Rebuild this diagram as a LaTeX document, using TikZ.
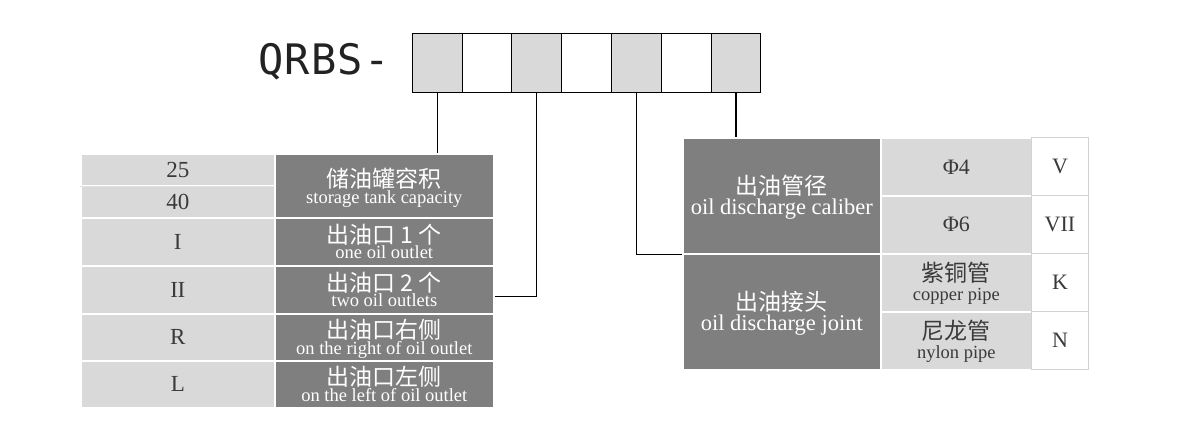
\documentclass[tikz,border=0pt]{standalone}
\usepackage{fontspec}
\setmainfont{Liberation Serif}
\newfontfamily\cjk{Noto Sans CJK SC}
\newfontfamily\codefont{DejaVu Sans Mono}
\definecolor{darkc}{HTML}{7F7F7F}
\definecolor{lightc}{HTML}{D9D9D9}
\definecolor{txtc}{HTML}{3A3A3A}
\definecolor{borderc}{HTML}{D2D2D2}
\definecolor{codec}{HTML}{222222}
\definecolor{sepc}{HTML}{E2E2E2}
\begin{document}
\begin{tikzpicture}[x=1pt,y=-1pt,
  codebox/.style={rectangle, draw=black, line width=0.9pt, minimum width=49.8pt, minimum height=59pt, inner sep=0, anchor=north west},
  cell/.style={rectangle, inner sep=0, anchor=north west, draw=white, line width=1.6pt},
  dark/.style={cell, fill=darkc},
  light/.style={cell, fill=lightc, text=txtc, font=\fontsize{23}{24}\selectfont},
  whitec/.style={rectangle, inner sep=0, anchor=north west, draw=borderc, line width=1pt, fill=white, text=txtc, font=\fontsize{22}{24}\selectfont},
  cn/.style={font=\cjk\fontsize{23}{23}\selectfont, anchor=base, inner sep=0, text=white},
  en/.style={font=\fontsize{18.5}{18.5}\selectfont, anchor=base, inner sep=0, text=white},
  cnr/.style={cn, font=\cjk\fontsize{23}{23}\selectfont},
  enr/.style={en, font=\fontsize{22.5}{22.5}\selectfont},
  ens/.style={en, text=txtc, font=\fontsize{18.5}{18.5}\selectfont},
  conn/.style={draw=black, line width=1.2pt}
]
\useasboundingbox (0,0) rectangle (1184,428);

% code
\node[anchor=west, inner sep=0, text=codec, font=\codefont\fontsize{42}{42}\selectfont] (code) at (258,62) {Q\kern1.3pt R\kern1.3pt B\kern1.3pt S\kern1.3pt -};
\node[codebox, fill=lightc] (b0) at (411.8,33.5) {};
\node[codebox, fill=white]  (b1) at (461.6,33.5) {};
\node[codebox, fill=lightc] (b2) at (511.4,33.5) {};
\node[codebox, fill=white]  (b3) at (561.2,33.5) {};
\node[codebox, fill=lightc] (b4) at (611.0,33.5) {};
\node[codebox, fill=white]  (b5) at (660.8,33.5) {};
\node[codebox, fill=lightc] (b6) at (710.6,33.5) {};

% left table
\node[light, minimum width=194pt, minimum height=32pt] (v25) at (80,153) {25};
\node[light, minimum width=194pt, minimum height=32pt] (v40) at (80,185) {40};
\node[light, minimum width=194pt, minimum height=48pt] (vI) at (80,217) {I};
\node[light, minimum width=194pt, minimum height=48pt] (vII) at (80,265) {I\kern-0.5pt I};
\node[light, minimum width=194pt, minimum height=47pt] (vR) at (80,313) {R};
\node[light, minimum width=194pt, minimum height=47pt] (vL) at (80,360) {L};
\draw[sepc, line width=1.6pt] (v25.south west) -- (v25.south east);

\node[dark, minimum width=219pt, minimum height=64pt] (dcap) at (274,153) {};
\node[dark, minimum width=219pt, minimum height=48pt] (dI) at (274,217) {};
\node[dark, minimum width=219pt, minimum height=48pt] (dII) at (274,265) {};
\node[dark, minimum width=219pt, minimum height=47pt] (dR) at (274,313) {};
\node[dark, minimum width=219pt, minimum height=47pt] (dL) at (274,360) {};

\node[cn] (tcap) at ([yshift=-1.5pt]dcap.center) {储油罐容积};
\node[en] (ecap) at ([yshift=-17.3pt]dcap.center) {storage tank capacity};
\node[cn] (tI) at ([yshift=-2pt]dI.center) {出油口 1 个};
\node[en] (eI) at ([yshift=-17pt]dI.center) {one oil outlet};
\node[cn] (tII) at ([yshift=-2pt]dII.center) {出油口 2 个};
\node[en] (eII) at ([yshift=-17pt]dII.center) {two oil outlets};
\node[cn] (tR) at ([yshift=-1.5pt]dR.center) {出油口右侧};
\node[en] (eR) at ([yshift=-17.6pt]dR.center) {on the right of oil outlet};
\node[cn] (tL) at ([yshift=-1.5pt]dL.center) {出油口左侧};
\node[en] (eL) at ([yshift=-17.6pt]dL.center) {on the left of oil outlet};

% right table
\node[dark, minimum width=198pt, minimum height=116pt] (dCal) at (682,137) {};
\node[light, minimum width=151pt, minimum height=58pt, font=\fontsize{22}{24}\selectfont] (lP4) at (880,137) {Φ4};
\node[light, minimum width=151pt, minimum height=58pt, font=\fontsize{22}{24}\selectfont] (lP6) at (880,195) {Φ6};
\node[whitec, minimum width=57pt, minimum height=58pt] (wV) at (1031,137) {V};
\node[whitec, minimum width=57pt, minimum height=58pt] (wVII) at (1031,195) {VII};
\node[dark, minimum width=198pt, minimum height=116pt] (dJoint) at (682,253) {};
\node[light, minimum width=151pt, minimum height=58pt] (lCu) at (880,253) {};
\node[light, minimum width=151pt, minimum height=58pt] (lNy) at (880,311) {};
\node[whitec, minimum width=57pt, minimum height=58pt] (wK) at (1031,253) {K};
\node[whitec, minimum width=57pt, minimum height=58pt] (wN) at (1031,311) {N};

\node[cnr] (tCal) at ([yshift=1.5pt]dCal.center) {出油管径};
\node[enr] (eCal) at ([yshift=-18.5pt]dCal.center) {oil discharge caliber};
\node[cnr] (tJoint) at ([yshift=1pt]dJoint.center) {出油接头};
\node[enr] (eJoint) at ([yshift=-18.5pt]dJoint.center) {oil discharge joint};
\node[cnr, text=txtc] (tCu) at ([yshift=1.5pt]lCu.center) {紫铜管};
\node[ens] (eCu) at ([yshift=-17.5pt]lCu.center) {copper pipe};
\node[cnr, text=txtc] (tNy) at ([yshift=1.5pt]lNy.center) {尼龙管};
\node[ens] (eNy) at ([yshift=-17.5pt]lNy.center) {nylon pipe};

% connectors
\coordinate (k2) at ([yshift=-7pt]dII.east);
\draw[conn] (b0.south) -- (b0.south |- dcap.north);
\draw[conn] (b2.south) |- (k2);
\draw[conn] (b4.south) |- (dCal.south west);
\draw[conn] (b6.south) -- (b6.south |- dCal.north);
\end{tikzpicture}
\end{document}
